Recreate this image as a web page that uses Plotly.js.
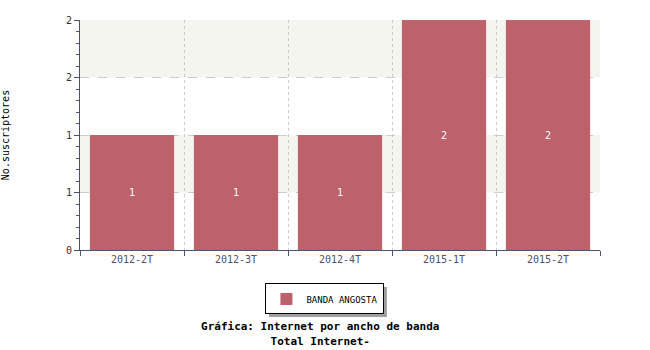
<!DOCTYPE html>
<html>
<head>
<meta charset="utf-8">
<script src="https://cdn.plot.ly/plotly-3.0.1.min.js"></script>
<style>html,body{margin:0;padding:0;background:#fff}</style>
</head>
<body>
<div id="chart" style="width:650px;height:350px"></div>
<script>
const categories = ["2012-2T", "2012-3T", "2012-4T", "2015-1T", "2015-2T"];
const values = [1, 1, 1, 2, 2];
const seriesName = "BANDA ANGOSTA";
const yTickVals = [0, 0.5, 1, 1.5, 2];
const yTickText = ["0", "1", "1", "2", "2"];
const chartTitle = "Gráfica: Internet por ancho de banda";
const chartSubtitle = "Total Internet-";
const yTitle = "No.suscriptores";

const mono = "DejaVu Sans Mono, monospace";
const axisColor = "#4a5377";

const trace = {
  type: "bar",
  x: categories,
  y: values,
  name: seriesName,
  text: values.map(String),
  textposition: "inside",
  insidetextanchor: "middle",
  textfont: {family: mono, size: 10, color: "#ffffff"},
  marker: {color: "#bd616b"},
  width: 0.81,
  hoverinfo: "x+y"
};

const layout = {
  width: 650, height: 350,
  margin: {l: 80, r: 50, t: 20, b: 100},
  paper_bgcolor: "#ffffff",
  plot_bgcolor: "#ffffff",
  font: {family: mono, size: 10, color: "#000"},
  showlegend: true,
  legend: {
    orientation: "h",
    x: 0.471, xanchor: "center",
    y: -0.213, yanchor: "middle",
    bgcolor: "#ffffff",
    bordercolor: "#000000",
    borderwidth: 1,
    itemwidth: 30,
    font: {family: mono, size: 9, color: "#000"}
  },
  title: {
    text: "<b>" + chartTitle + "</b><br><b>" + chartSubtitle + "</b>",
    font: {family: mono, size: 11, color: "#000"},
    xref: "paper", x: 0.462, xanchor: "center",
    yref: "container", y: 0.056, yanchor: "middle"
  },
  xaxis: {
    type: "category",
    range: [-0.5, 4.5],
    showline: true, linecolor: axisColor, linewidth: 1,
    ticks: "outside", tickson: "boundaries", ticklen: 5, tickcolor: axisColor,
    showgrid: true, gridcolor: "#cccccc", griddash: "dot", gridwidth: 1,
    tickfont: {family: mono, size: 10, color: axisColor},
    zeroline: false,
    fixedrange: true
  },
  yaxis: {
    range: [0, 2],
    showline: true, linecolor: axisColor, linewidth: 1,
    ticks: "outside", ticklen: 5, tickcolor: axisColor,
    tickvals: yTickVals, ticktext: yTickText,
    tickfont: {family: mono, size: 10, color: "#333"},
    showgrid: true, gridcolor: "#cccccc", griddash: "dash", gridwidth: 1,
    minor: {dtick: 0.1, ticks: "outside", ticklen: 3, tickcolor: axisColor, showgrid: false},
    zeroline: false,
    title: {text: yTitle, font: {family: mono, size: 10, color: "#000"}, standoff: 55},
    fixedrange: true
  },
  shapes: [
    {type: "rect", xref: "paper", yref: "y", x0: 0, x1: 1, y0: 0.5, y1: 1, fillcolor: "#f5f5f0", line: {width: 0}, layer: "below"},
    {type: "rect", xref: "paper", yref: "y", x0: 0, x1: 1, y0: 1.5, y1: 2, fillcolor: "#f5f5f0", line: {width: 0}, layer: "below"}
  ]
};

Plotly.newPlot("chart", [trace], layout, {displayModeBar: false, staticPlot: true}).then(gd => {
  // add drop shadow behind legend box, sized from rendered legend
  const bg = gd.querySelector(".legend .bg");
  if (!bg) return;
  const r = bg.getBoundingClientRect();
  const c = gd.getBoundingClientRect();
  const fl = gd._fullLayout;
  const pw = fl._size.w, ph = fl._size.h, pl = fl._size.l, pt = fl._size.t;
  const toX = px => (px - c.left - pl) / pw;
  const toY = py => 1 - (py - c.top - pt) / ph;
  const shadow = {type: "rect", xref: "paper", yref: "paper",
    x0: toX(r.left + 3), x1: toX(r.right + 3), y0: toY(r.top + 3), y1: toY(r.bottom + 3),
    fillcolor: "#a0a0a0", line: {width: 0}, layer: "below"};
  Plotly.relayout(gd, {shapes: fl.shapes.map(s => s._input).concat([shadow])});
});
</script>
</body>
</html>
